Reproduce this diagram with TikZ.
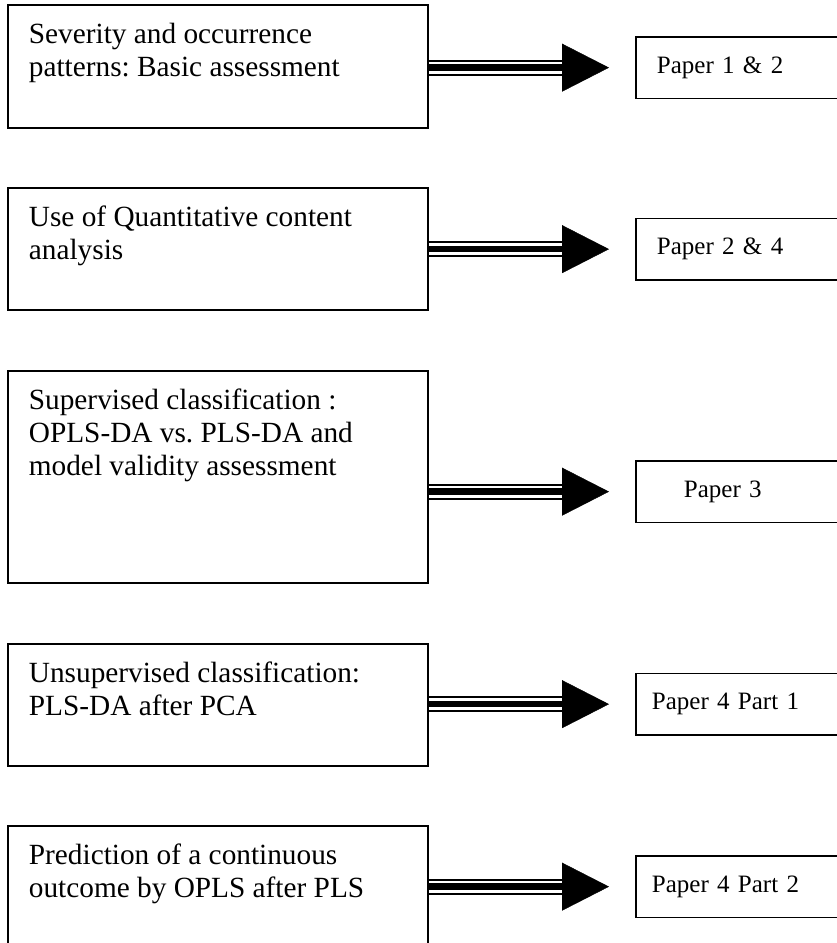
\documentclass[tikz,border=0pt]{standalone}
\usepackage{fontspec}
\setmainfont{Liberation Serif}
\frenchspacing
\usetikzlibrary{arrows.meta}

\tikzset{
  topic/.style={draw, line width=1.8pt, anchor=north west, inner xsep=21pt, inner ysep=0pt,
    font=\fontsize{29.3}{33}\selectfont},
  paper/.style={draw, line width=1.8pt, anchor=north west, minimum height=61.5pt,
    text width=205pt, align=left, inner xsep=21pt, font=\fontsize{25}{29}\selectfont},
  rail/.style={double=white, double distance=12pt, line width=2pt},
  core/.style={line width=6.5pt, -{Triangle[length=47pt, width=48pt, line width=0.4pt]}},
}
\newcommand{\topictext}[2]{\parbox[t][#1][t]{378pt}{\raggedright\rule{0pt}{39pt}#2}}

\begin{document}
\begin{tikzpicture}[x=1pt, y=-1pt]
\path[use as bounding box, clip] (0,0) rectangle (837,943);

\node[topic] (sev) at (7,4) {\topictext{123pt}{Severity and occurrence\\patterns: Basic assessment}};
\node[paper] (p12) at (635,36) {Paper 1 \& 2};
\draw[rail] (sev.east |- p12.west) -- ([xshift=-73pt]p12.west);
\draw[core] (sev.east |- p12.west) -- ([xshift=-26pt]p12.west);

\node[topic] (quant) at (7,187) {\topictext{122pt}{Use of Quantitative content\\analysis}};
\node[paper] (p24) at (635,217.5) {Paper 2 \& 4};
\draw[rail] (quant.east |- p24.west) -- ([xshift=-73pt]p24.west);
\draw[core] (quant.east |- p24.west) -- ([xshift=-26pt]p24.west);

\node[topic] (superv) at (7,370) {\topictext{212pt}{Supervised classification :\\OPLS-DA vs. PLS-DA and\\model validity assessment}};
\node[paper] (p3) at (635,460) {\hspace*{27pt}Paper 3};
\draw[rail] (superv.east |- p3.west) -- ([xshift=-73pt]p3.west);
\draw[core] (superv.east |- p3.west) -- ([xshift=-26pt]p3.west);

\node[topic] (unsup) at (7,643) {\topictext{122pt}{Unsupervised classification:\\PLS-DA after PCA}};
\node[paper, inner xsep=16pt] (p41) at (635,672.5) {Paper 4 Part 1};
\draw[rail] (unsup.east |- p41.west) -- ([xshift=-73pt]p41.west);
\draw[core] (unsup.east |- p41.west) -- ([xshift=-26pt]p41.west);

\node[topic] (pred) at (7,825) {\topictext{123pt}{Prediction of a continuous\\outcome by OPLS after PLS}};
\node[paper, inner xsep=16pt] (p42) at (635,855) {Paper 4 Part 2};
\draw[rail] (pred.east |- p42.west) -- ([xshift=-73pt]p42.west);
\draw[core] (pred.east |- p42.west) -- ([xshift=-26pt]p42.west);
\end{tikzpicture}
\end{document}
